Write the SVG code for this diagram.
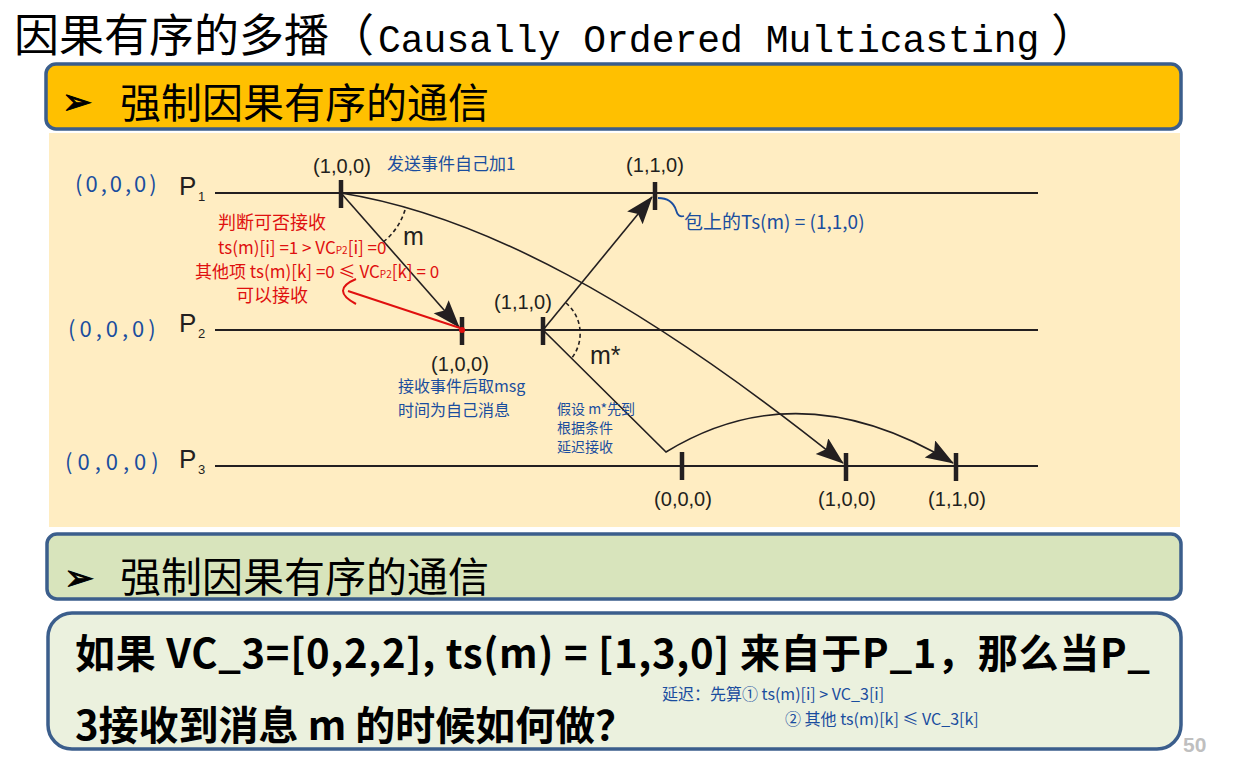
<svg xmlns="http://www.w3.org/2000/svg" width="1236" height="772" viewBox="0 0 1236 772">
<style>
.cjk{font-family:"Noto Sans CJK SC","Noto Sans",sans-serif}
.lbl{font-family:"Liberation Sans",Arial,sans-serif;fill:#231f20}
.ts{font-family:"Liberation Sans",Arial,sans-serif;fill:#231f20;font-size:20px;text-anchor:middle}
.pl{stroke:#231f20;stroke-width:2.2;fill:none}
.tick{stroke:#231f20;stroke-width:4.5}
.msg{stroke:#231f20;stroke-width:1.6;fill:none}
.dash{stroke:#231f20;stroke-width:1.6;fill:none;stroke-dasharray:4 3}
.blue{font-family:"Noto Sans CJK SC","Noto Sans",sans-serif;fill:#1a4d9e}
.red{font-family:"Noto Sans CJK SC","Noto Sans",sans-serif;fill:#e0100f}
.hdr{stroke:#3b5e8c;stroke-width:3.5}
.bul{font-family:"DejaVu Sans",sans-serif;font-size:36px;fill:#000;stroke:#000;stroke-width:1}
</style>
<defs>
<marker id="ah" markerUnits="userSpaceOnUse" markerWidth="30" markerHeight="22" refX="27" refY="10" orient="auto">
<path d="M0,0 L28,10 L0,20 L5,10 z" fill="#231f20"/>
</marker>
</defs>
<rect width="1236" height="772" fill="#ffffff"/>

<g id="title">
<text class="cjk" x="14" y="52" font-size="45" fill="#000">因果有序的多播（<tspan font-family="Liberation Mono,monospace" font-size="38" dx="4">Causally Ordered Multicasting</tspan><tspan dx="12">）</tspan></text>
</g>

<g id="header1">
<rect class="hdr" x="46" y="64" width="1135" height="65" rx="10" fill="#ffc000"/>
<text class="bul" x="62" y="114">➢</text>
<text class="cjk" x="120" y="118" font-size="41" fill="#000">强制因果有序的通信</text>
</g>

<rect id="diagram-bg" x="49" y="133" width="1131" height="394" fill="#ffedc2"/>

<g id="P1">
<line class="pl" x1="215" y1="193" x2="1038" y2="193"/>
<text class="lbl" x="179" y="195" font-size="26">P</text>
<text class="lbl" x="198" y="201" font-size="13">1</text>
</g>
<g id="P2">
<line class="pl" x1="215" y1="330" x2="1038" y2="330"/>
<text class="lbl" x="179" y="332" font-size="26">P</text>
<text class="lbl" x="198" y="338" font-size="13">2</text>
</g>
<g id="P3">
<line class="pl" x1="215" y1="466" x2="1038" y2="466"/>
<text class="lbl" x="179" y="468" font-size="26">P</text>
<text class="lbl" x="198" y="474" font-size="13">3</text>
</g>

<g id="e1-send">
<line class="tick" x1="341" y1="180" x2="341" y2="208"/>
<text class="ts" x="342" y="173">(1,0,0)</text>
</g>
<g id="e1-recv">
<line class="tick" x1="655" y1="182" x2="655" y2="210"/>
<text class="ts" x="655" y="172">(1,1,0)</text>
</g>
<g id="e2-recv">
<line class="tick" x1="462" y1="317" x2="462" y2="345"/>
<text class="ts" x="460" y="371">(1,0,0)</text>
</g>
<g id="e2-send">
<line class="tick" x1="543" y1="317" x2="543" y2="345"/>
<text class="ts" x="523" y="309">(1,1,0)</text>
</g>
<g id="e3-a">
<line class="tick" x1="682" y1="452" x2="682" y2="480"/>
<text class="ts" x="683" y="506">(0,0,0)</text>
</g>
<g id="e3-b">
<line class="tick" x1="846" y1="453" x2="846" y2="481"/>
<text class="ts" x="847" y="506">(1,0,0)</text>
</g>
<g id="e3-c">
<line class="tick" x1="956" y1="453" x2="956" y2="481"/>
<text class="ts" x="957" y="506">(1,1,0)</text>
</g>

<g id="connectors">
<path class="msg" d="M341,193 L459,327" marker-end="url(#ah)"/>
<path class="msg" d="M341,193 C480,215 640,300 843,463" marker-end="url(#ah)"/>
<path class="msg" d="M543,330 L652,197" marker-end="url(#ah)"/>
<path class="msg" d="M543,330 L666,452 Q800,370 953,463" marker-end="url(#ah)"/>
<path class="dash" d="M405,210 A65,65 0 0 1 382,243"/>
<path class="dash" d="M566,303 A40,40 0 0 1 571,359"/>
<text class="lbl" x="403" y="245" font-size="25">m</text>
<text class="lbl" x="590" y="364" font-size="25">m*</text>
</g>

<g id="red-notes">
<path d="M460,328 L348,291" stroke="#e0100f" stroke-width="2" fill="none"/>
<path d="M356,279 Q330,290 356,304" stroke="#e0100f" stroke-width="2" fill="none"/>
<circle cx="462" cy="330" r="3" fill="#e0100f"/>
<text class="red" x="218" y="229" font-size="18">判断可否接收</text>
<text class="red" x="218" y="254" font-size="17">ts(m)[i] =1 &gt; VC<tspan font-size="10">P2</tspan>[i] =0</text>
<text class="red" x="195" y="278" font-size="17">其他项 ts(m)[k] =0 ≤ VC<tspan font-size="10">P2</tspan>[k] = 0</text>
<text class="red" x="236" y="302" font-size="18">可以接收</text>
</g>

<g id="blue-notes">
<text class="blue" x="75" y="192" font-size="22" letter-spacing="3">(0,0,0)</text>
<text class="blue" x="68" y="337" font-size="22" letter-spacing="4">(0,0,0)</text>
<text class="blue" x="65" y="470" font-size="22" letter-spacing="5">(0,0,0)</text>
<text class="blue" x="387" y="170" font-size="17">发送事件自己加1</text>
<path d="M658,198 Q672,198 676,210 Q678,218 684,216" stroke="#1a4d9e" stroke-width="1.8" fill="none"/>
<text class="blue" x="684" y="229" font-size="19">包上的Ts(m) = (1,1,0)</text>
<text class="blue" x="398" y="392" font-size="16">接收事件后取msg</text>
<text class="blue" x="398" y="416" font-size="16">时间为自己消息</text>
<text class="blue" x="557" y="414" font-size="14">假设 m*先到</text>
<text class="blue" x="557" y="433" font-size="14">根据条件</text>
<text class="blue" x="557" y="452" font-size="14">延迟接收</text>
</g>

<g id="header2">
<rect class="hdr" x="47" y="534" width="1134" height="65" rx="10" fill="#d8e4bc"/>
<text class="bul" x="64" y="590">➢</text>
<text class="cjk" x="120" y="592" font-size="41" fill="#000">强制因果有序的通信</text>
</g>

<g id="question">
<rect class="hdr" x="48" y="613" width="1133" height="136" rx="24" fill="#ebf1de"/>
<text class="cjk" x="75" y="668" font-size="40" font-weight="bold" fill="#000" textLength="1075" lengthAdjust="spacing">如果 VC_3=[0,2,2], ts(m) = [1,3,0] 来自于P_1，那么当P_</text>
<text class="cjk" x="75" y="740" font-size="40" font-weight="bold" fill="#000">3接收到消息 m 的时候如何做？</text>
<text class="blue" x="662" y="700" font-size="16">延迟：先算① ts(m)[i] &gt; VC_3[i]</text>
<text class="blue" x="785" y="725" font-size="16">② 其他 ts(m)[k] ≤ VC_3[k]</text>
</g>

<text x="1183" y="752" font-family="Liberation Sans,Arial,sans-serif" font-weight="bold" font-size="21" fill="#bfbfbf">50</text>
</svg>
